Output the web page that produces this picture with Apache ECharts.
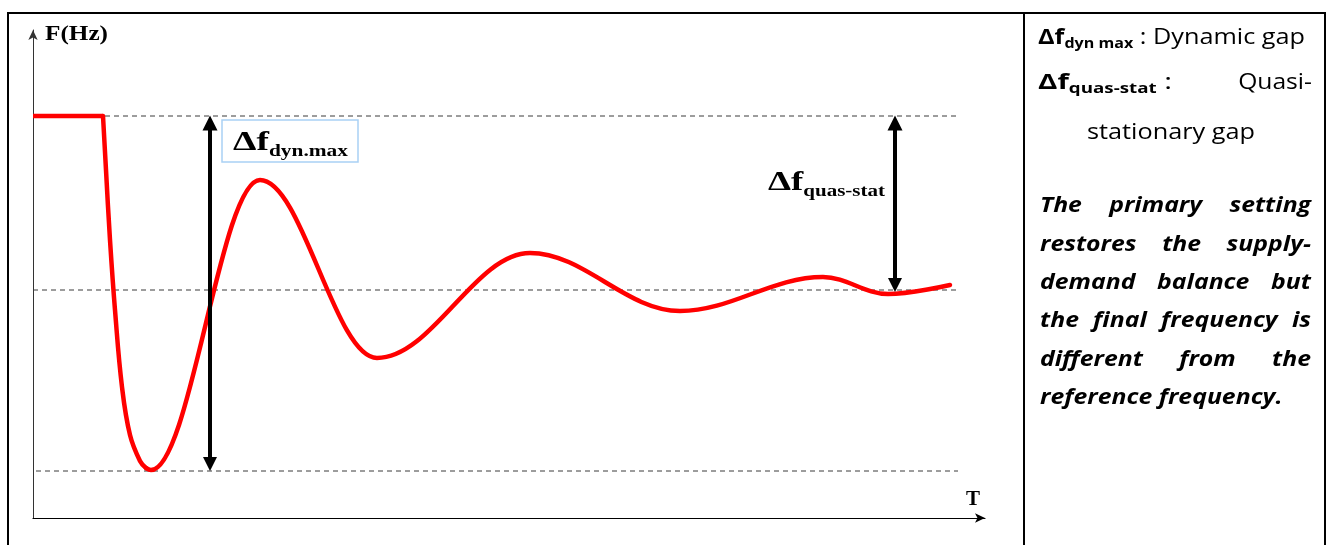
<!DOCTYPE html>
<html><head><meta charset="utf-8">
<script src="https://cdn.jsdelivr.net/npm/echarts@6/dist/echarts.min.js"></script>
<style>html,body{margin:0;padding:0;background:#fff;}#c{width:1331px;height:545px;}</style>
</head><body><div id="c"></div>
<script>
// ---------- DATA (time units on x, frequency units above the axis origin on y) ----------
const initialT = [0, 70];
const initialF = [402, 402];
// sudden drop after the disturbance
const dropT = [70, 73, 77, 82, 89, 97, 107, 113];
const dropF = [402, 348, 278, 208, 131, 83, 57, 50];
// damped oscillation: minimum, then successive extrema, then end of record
const oscT = [113, 118, 227, 344, 497, 647, 790, 855, 917];
const oscF = [50, 48, 338, 160, 265, 207, 241, 224, 233];
const levelNames = ['reference', 'quasi-stationary', 'dynamic minimum'];
const levelF = [402, 228, 47];
const levelStartT = [0, 0, 3];
const levelEndT = [925, 925, 925];
const arrowNames = ['dyn', 'quas'];
const arrowT = [177, 862];
const arrowFromF = [402, 402];
const arrowToF = [47, 226];
const paragraphLines = [
  ['The', 'primary', 'setting'],
  ['restores', 'the', 'supply-'],
  ['demand', 'balance', 'but'],
  ['the', 'final', 'frequency', 'is'],
  ['different', 'from', 'the'],
  ['reference', 'frequency.']
];

// ---------- helpers ----------
const chart = echarts.init(document.getElementById('c'));
const mctx = document.createElement('canvas').getContext('2d');
function fontStr(f) { return (f.style || 'normal') + ' ' + (f.weight || 'normal') + ' ' + f.size + 'px ' + f.family; }
function tw(t, f) { mctx.font = fontStr(f); return mctx.measureText(t).width; }
const MID = 0.33;
function txt(t, x, y, f, color, sx) {
  return { type: 'text', x: x, y: y, z: 100, silent: true, scaleX: sx || 1,
    style: { text: t, fontSize: f.size, fontFamily: f.family, fontWeight: f.weight || 'normal', fontStyle: f.style || 'normal',
      fill: color || '#000', align: 'left', verticalAlign: 'middle', textAlign: 'left', textVerticalAlign: 'middle' } };
}
function textLine(frags, left, baseline, target, color) {
  let x = 0; const kids = [];
  frags.forEach(f => { kids.push(txt(f.t, x, -MID * f.size + (f.dy || 0), f, color)); x += tw(f.t, f); });
  const s = target ? target / x : 1;
  return { type: 'group', x: left, y: baseline, scaleX: s, children: kids };
}
function justLine(words, left, right, baseline, f, justify, sx) {
  const ws = words.map(w => tw(w, f) * sx);
  const total = ws.reduce((a, b) => a + b, 0);
  const gap = justify && words.length > 1 ? (right - left - total) / (words.length - 1) : tw(' ', f) * sx;
  let x = left; const out = [];
  words.forEach((w, i) => { out.push(txt(w, x, baseline - MID * f.size, f, '#000', sx)); x += ws[i] + gap; });
  return out;
}
const zip = (a, b) => a.map((v, i) => [v, b[i]]);

const SERIF = '"Liberation Serif", "Times New Roman", serif';
const SANS = '"Open Sans", "Noto Sans", sans-serif';
const serifB = s => ({ size: s, weight: 'bold', family: SERIF });
const sansB = s => ({ size: s, weight: 'bold', family: SANS });
const sansR = s => ({ size: s, weight: 'normal', family: SANS });
const paraF = { size: 21, weight: 'bold', style: 'italic', family: SANS };

// ---------- series ----------
const series = [];
levelF.forEach((lv, i) => {
  series.push({ name: levelNames[i], type: 'line', silent: true, symbol: 'none', z: 1,
    data: [[levelStartT[i], lv], [levelEndT[i], lv]],
    lineStyle: { color: '#3a3a3a', width: 1, type: [5, 4] } });
});
const red = { color: '#ff0000', width: 4.5, cap: 'round', join: 'round' };
series.push({ name: 'initial', type: 'line', symbol: 'none', z: 3, silent: true,
  data: zip(initialT, initialF), lineStyle: Object.assign({}, red, { cap: 'butt', join: 'miter' }) });
series.push({ name: 'drop', type: 'line', symbol: 'none', z: 3, silent: true, smooth: 0.4,
  data: zip(dropT, dropF), lineStyle: red });
series.push({ name: 'oscillation', type: 'line', symbol: 'none', z: 3, silent: true, smooth: 0.36, smoothMonotone: 'x',
  data: zip(oscT, oscF), lineStyle: red });
const HEAD = 14;
series.push({ name: 'gaps', type: 'lines', coordinateSystem: 'cartesian2d', z: 4, silent: true,
  symbol: ['triangle', 'triangle'], symbolSize: [15, HEAD],
  lineStyle: { color: '#000', width: 4, opacity: 1 },
  data: arrowT.map((t, i) => ({ name: arrowNames[i], coords: [[t, arrowFromF[i] - HEAD / 2], [t, arrowToF[i] + HEAD / 2]] })) });

// ---------- graphics (frame + texts) ----------
const frame = [
  [8, 13, 1326, 13], [8, 12, 8, 545], [1024, 12, 1024, 545], [1325, 12, 1325, 545]
].map(l => ({ type: 'line', z: 50, silent: true, shape: { x1: l[0], y1: l[1], x2: l[2], y2: l[3] }, style: { stroke: '#000', lineWidth: 2 } }));

const g = frame.slice();
g.push({ type: 'rect', z: 90, silent: true, shape: { x: 222, y: 120, width: 136, height: 42 }, style: { fill: '#fff', stroke: '#a9d1f5', lineWidth: 1.5 } });
g.push(textLine([{ t: 'F(Hz)', ...serifB(20) }], 45, 41, 63));
g.push(textLine([{ t: 'T', ...serifB(20) }], 966, 506, 14));
g.push(textLine([{ t: 'Δf', ...serifB(28) }, { t: 'dyn.max', ...serifB(16), dy: 5 }], 233, 152, 115));
g.push(textLine([{ t: 'Δf', ...serifB(28) }, { t: 'quas-stat', ...serifB(16), dy: 5 }], 768, 192, 117));
// right panel
g.push(textLine([{ t: 'Δf', ...sansB(22) }, { t: 'dyn max', ...sansB(14), dy: 4 }, { t: ' : Dynamic gap', ...sansR(22) }], 1038, 45, 267));
g.push(textLine([{ t: 'Δf', ...sansB(22) }, { t: 'quas-stat', ...sansB(14), dy: 4 }, { t: ' :', ...sansR(22) }], 1038, 90, 134));
const qf = sansR(22);
g.push(textLine([{ t: 'Quasi-', ...qf }], 1312 - tw('Quasi-', qf) * 1.12, 90, tw('Quasi-', qf) * 1.12));
g.push(textLine([{ t: 'stationary gap', ...sansR(22) }], 1087, 140, 168));
const baselines = [213, 252, 290, 328, 367, 405];
paragraphLines.forEach((words, i) => {
  justLine(words, 1040, 1311, baselines[i], paraF, i < paragraphLines.length - 1, 1.18).forEach(e => g.push(e));
});

chart.setOption({
  animation: false,
  backgroundColor: '#fff',
  grid: { left: 33, top: 30, right: 346, bottom: 27, containLabel: false },
  xAxis: { type: 'value', min: 0, max: 952, splitLine: { show: false }, axisTick: { show: false }, axisLabel: { show: false },
    axisLine: { show: true, onZero: false, symbol: ['none', 'arrow'], symbolSize: [7, 10], lineStyle: { color: '#000', width: 1.2 } } },
  yAxis: { type: 'value', min: 0, max: 488, splitLine: { show: false }, axisTick: { show: false }, axisLabel: { show: false },
    axisLine: { show: true, onZero: false, symbol: ['none', 'arrow'], symbolSize: [7, 10], lineStyle: { color: '#333', width: 1 } } },
  series: series,
  graphic: { elements: g }
});
</script></body></html>
